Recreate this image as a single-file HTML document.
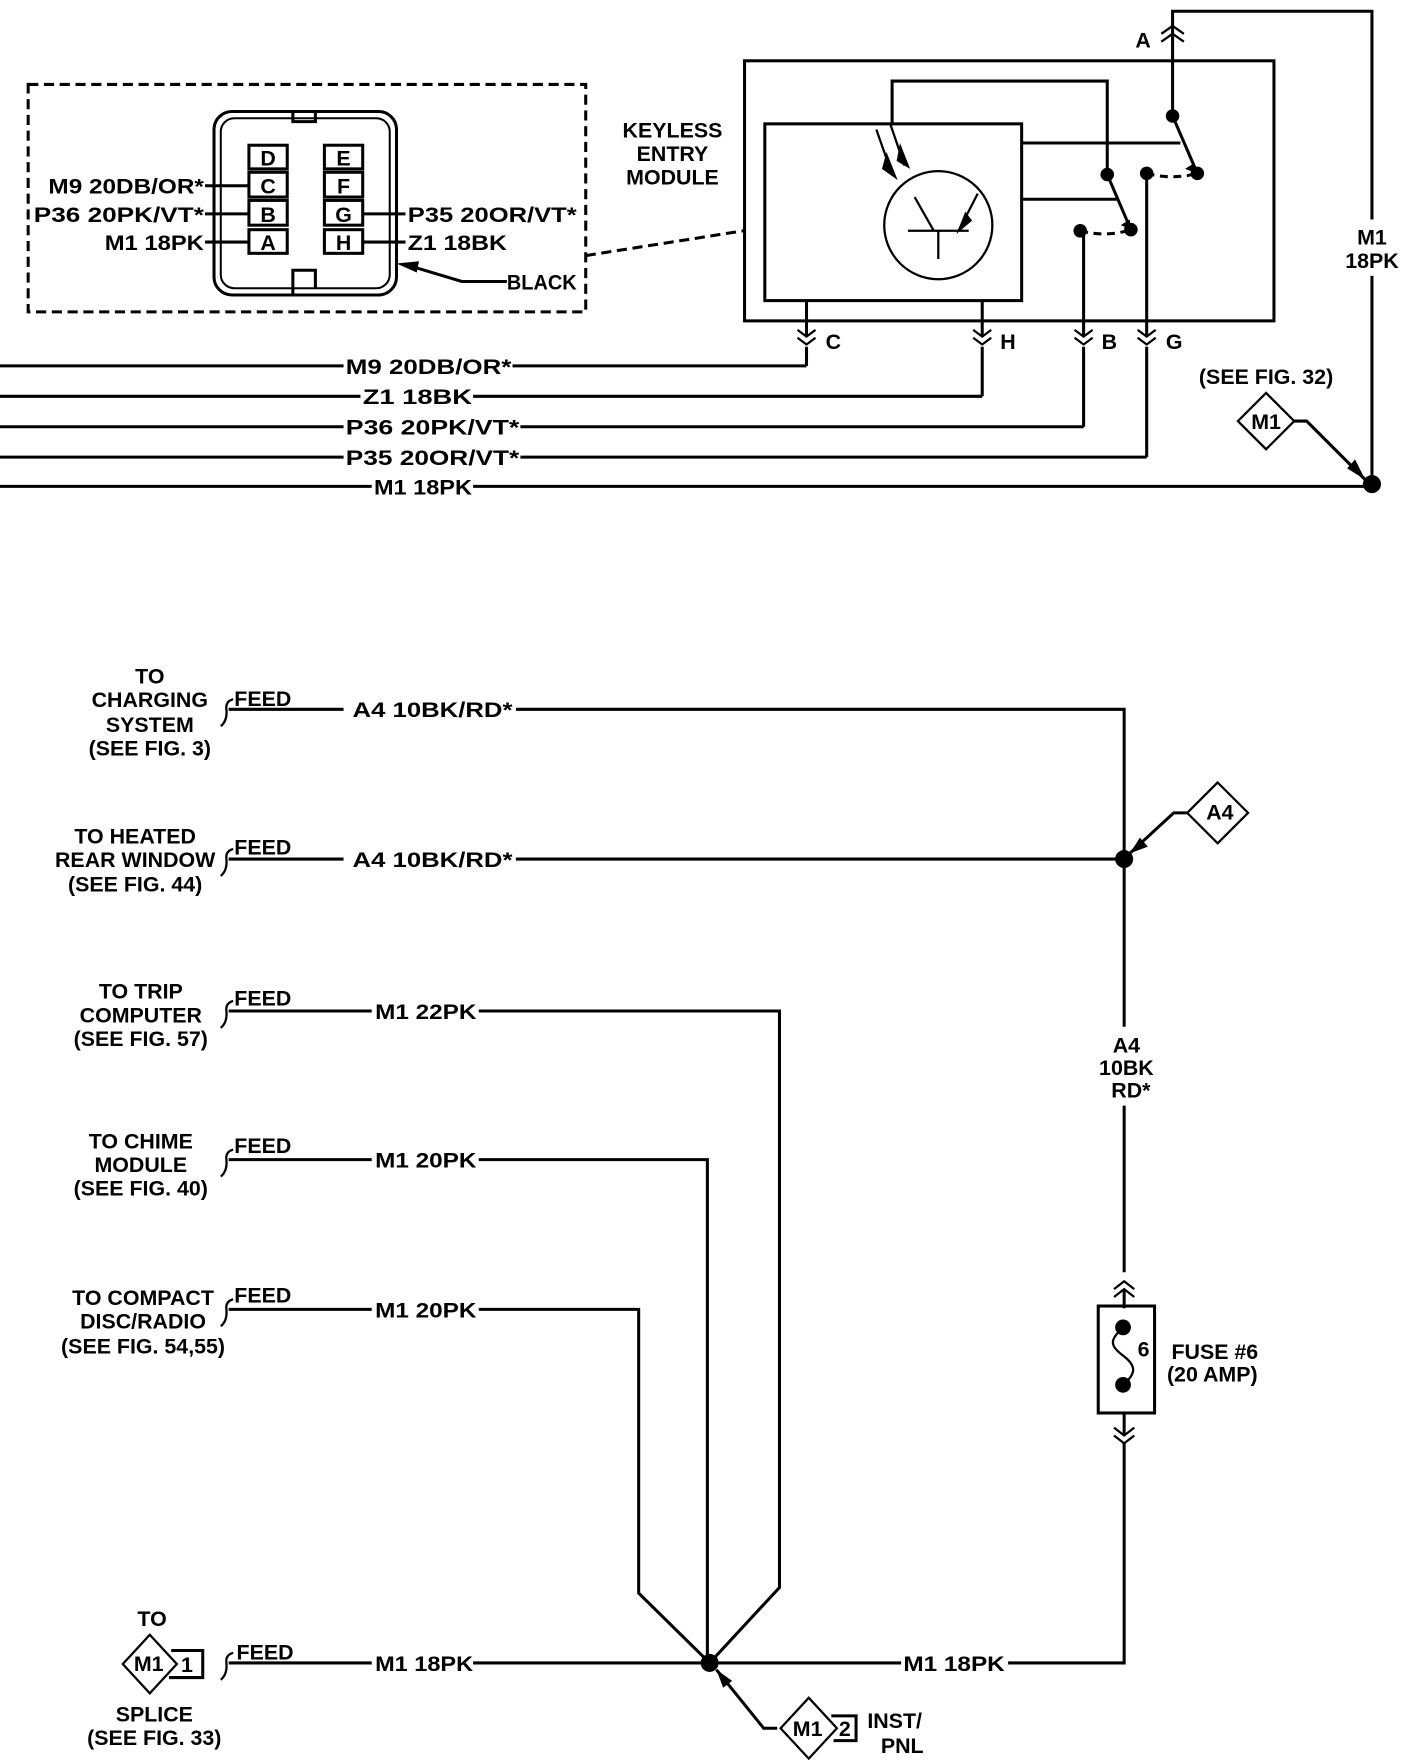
<!DOCTYPE html>
<html><head><meta charset="utf-8"><style>
html,body{margin:0;padding:0;background:#fff;}
svg{display:block;}
text{font-family:"Liberation Sans Narrow","Liberation Sans",sans-serif;font-weight:bold;font-size:19px;fill:#000;}
</style></head><body>
<svg width="1408" height="1762" viewBox="0 0 1250 1565" preserveAspectRatio="none" xmlns="http://www.w3.org/2000/svg">
<g fill="none" stroke="#000" stroke-width="2.7">
<rect x="25" y="75" width="495" height="202" stroke-dasharray="9,5"/>
<path d="M520 227 L660 205" stroke-dasharray="9,5"/>
<rect x="190" y="99" width="162" height="163" rx="16"/>
<rect x="196" y="105" width="150" height="151" rx="12" stroke-width="1.8"/>
<path d="M260 99 V108 H280 V99 M260 262 V240 H280 V256"/>
<rect x="221" y="129" width="34" height="21"/><rect x="221" y="153" width="34" height="22"/>
<rect x="221" y="178" width="34" height="22"/><rect x="221" y="204" width="34" height="21"/>
<rect x="288" y="129" width="34" height="21"/><rect x="288" y="153" width="34" height="22"/>
<rect x="288" y="178" width="34" height="22"/><rect x="288" y="204" width="34" height="21"/>
<path d="M182 165 H221 M182 190 H221 M182 215 H221 M322 190 H360 M322 215 H360"/>
<path d="M450 250 H410 L360 235"/>
<rect x="661" y="54" width="470" height="231"/>
<rect x="679" y="110" width="228" height="157"/>
<circle cx="833" cy="200" r="48" stroke-width="2"/>
<path d="M812 175 L829 205 M806 205 H860 M833 205 V230 M868 172 L851 205" stroke-width="2"/>
<path d="M792 110 V72 H983 V155 M907 127 H1048 M907 177 H993"/>
<path d="M1041 103 V10 H1218 V195 M1218 245 V430"/>
<path d="M1041 103 L1063 154 M983 155 L1004 204"/>
<path d="M1018 154 Q1040 160 1063 154 M959 205 Q982 211 1004 204" stroke-dasharray="7,5"/>
<path d="M1018 154 V298 M1018 308 V406 M962 205 V298 M962 308 V379 M716 267 V298 M716 308 V325 M872 267 V298 M872 308 V352"/>
<g stroke-width="2">
<path d="M708 293 L716 299 L724 293 M708 300 L716 306 L724 300"/>
<path d="M864 293 L872 299 L880 293 M864 300 L872 306 L880 300"/>
<path d="M954 293 L962 299 L970 293 M954 300 L962 306 L970 300"/>
<path d="M1010 293 L1018 299 L1026 293 M1010 300 L1018 306 L1026 300"/>
<path d="M1031 30 L1041 23 L1051 30 M1031 37 L1041 30 L1051 37"/>
</g>
<path d="M0 325 H305 M455 325 H716 M0 352 H320 M420 352 H872 M0 379 H305 M462 379 H962 M0 406 H305 M462 406 H1018 M0 432 H330 M420 432 H1218"/>
<path d="M1124 349 L1149 374 L1124 399 L1099 374 Z" stroke-width="2"/>
<path d="M1149 374 H1160 L1212 426"/>
<path d="M203 630 H305 M458 630 H998 V912 M998 982 V1130 M998 1145 V1162 M203 763 H305 M458 763 H998"/>
<path d="M998 1255 V1275 M998 1282 V1477 H895 M800 1477 H420 M203 1477 H330"/>
<path d="M203 898 H330 M425 898 H692 V1410 L630 1477 M203 1030 H330 M425 1030 H628 V1477 M203 1163 H330 M425 1163 H567 V1415 L630 1477"/>
<rect x="975" y="1160" width="50" height="95"/>
<path d="M997 1179 C985 1190 985 1195 997 1204 C1009 1213 1009 1220 997 1230" stroke-width="2"/>
<g stroke-width="2">
<path d="M989 1145 L998 1138 L1007 1145 M989 1152 L998 1145 L1007 1152"/>
<path d="M989 1268 L998 1275 L1007 1268 M989 1275 L998 1282 L1007 1275"/>
</g>
<path d="M1081 695 L1108 722 L1081 749 L1054 722 Z" stroke-width="2"/>
<path d="M1054 722 H1042 L1003 758"/>
<path d="M690 1535 H678 L636 1483"/>
<path d="M718 1508 L743 1535 L718 1562 L693 1535 Z" stroke-width="2"/>
<path d="M738 1524 H760 V1546 H740"/>
<path d="M133 1452 L157 1478 L133 1504 L109 1478 Z" stroke-width="2"/>
<path d="M152 1466 H180 V1490 H150"/>
<g stroke-width="2">
<path d="M207 621 Q200 623 201 630 Q202 640 196 645"/>
<path d="M207 754 Q200 756 201 763 Q202 773 196 778"/>
<path d="M207 889 Q200 891 201 898 Q202 908 196 913"/>
<path d="M207 1021 Q200 1023 201 1030 Q202 1040 196 1045"/>
<path d="M207 1154 Q200 1156 201 1163 Q202 1173 196 1178"/>
<path d="M207 1468 Q200 1470 201 1477 Q202 1487 196 1492"/>
</g>
</g>
<g fill="#000">
<circle cx="1041" cy="103" r="6"/><circle cx="1063" cy="154" r="6"/><circle cx="1018" cy="154" r="6"/>
<circle cx="983" cy="155" r="6"/><circle cx="1004" cy="204" r="6"/><circle cx="959" cy="205" r="6"/>
<circle cx="1218" cy="430" r="8"/><circle cx="998" cy="763" r="8"/><circle cx="630" cy="1477" r="8"/>
<circle cx="997" cy="1179" r="7"/><circle cx="997" cy="1230" r="7"/>
<path d="M1052 150 L1060 145 L1063 154 Z M995 200 L1003 195 L1004 204 Z"/>
<path d="M352 234 L372 232 L370 242 Z"/>
<path d="M1212 426 L1196 416 L1203 408 Z"/>
<path d="M1003 758 L1012 744 L1019 752 Z"/>
<path d="M636 1483 L650 1493 L642 1499 Z"/>
<path d="M787 135 L797 160 L783 150 Z M799 127 L808 150 L796 143 Z M849 208 L857 188 L863 196 Z"/>
</g>
<g stroke="#000" stroke-width="2"><path d="M778 115 L792 155 M790 109 L803 147"/></g>
<text x="238" y="147" text-anchor="middle">D</text><text x="238" y="172" text-anchor="middle">C</text>
<text x="238" y="197" text-anchor="middle">B</text><text x="238" y="222" text-anchor="middle">A</text>
<text x="305" y="147" text-anchor="middle">E</text><text x="305" y="172" text-anchor="middle">F</text>
<text x="305" y="197" text-anchor="middle">G</text><text x="305" y="222" text-anchor="middle">H</text>
<text x="43" y="172" textLength="138" lengthAdjust="spacingAndGlyphs">M9 20DB/OR*</text>
<text x="30" y="197" textLength="151" lengthAdjust="spacingAndGlyphs">P36 20PK/VT*</text>
<text x="93" y="222" textLength="88" lengthAdjust="spacingAndGlyphs">M1 18PK</text>
<text x="362" y="197" textLength="150" lengthAdjust="spacingAndGlyphs">P35 20OR/VT*</text>
<text x="362" y="222" textLength="88" lengthAdjust="spacingAndGlyphs">Z1 18BK</text>
<text x="450" y="257" textLength="62" lengthAdjust="spacingAndGlyphs">BLACK</text>
<text x="597" y="122" text-anchor="middle">KEYLESS</text>
<text x="597" y="143" text-anchor="middle">ENTRY</text>
<text x="597" y="164" text-anchor="middle">MODULE</text>
<text x="733" y="310">C</text><text x="888" y="310">H</text><text x="978" y="310">B</text><text x="1035" y="310">G</text>
<text x="1008" y="42" font-size="16">A</text>
<text x="1218" y="217" text-anchor="middle">M1</text><text x="1218" y="238" text-anchor="middle">18PK</text>
<text x="307" y="332" textLength="147" lengthAdjust="spacingAndGlyphs">M9 20DB/OR*</text>
<text x="322" y="359" textLength="97" lengthAdjust="spacingAndGlyphs">Z1 18BK</text>
<text x="307" y="386" textLength="154" lengthAdjust="spacingAndGlyphs">P36 20PK/VT*</text>
<text x="307" y="413" textLength="154" lengthAdjust="spacingAndGlyphs">P35 20OR/VT*</text>
<text x="332" y="439" textLength="87" lengthAdjust="spacingAndGlyphs">M1 18PK</text>
<text x="1124" y="341" text-anchor="middle">(SEE FIG. 32)</text>
<text x="1124" y="381" text-anchor="middle" font-size="16">M1</text>
<text x="133" y="607" text-anchor="middle">TO</text>
<text x="133" y="628" text-anchor="middle">CHARGING</text>
<text x="133" y="650" text-anchor="middle">SYSTEM</text>
<text x="133" y="671" text-anchor="middle">(SEE FIG. 3)</text>
<text x="208" y="627">FEED</text>
<text x="313" y="637" textLength="142" lengthAdjust="spacingAndGlyphs">A4 10BK/RD*</text>
<text x="120" y="749" text-anchor="middle">TO HEATED</text>
<text x="120" y="770" text-anchor="middle">REAR WINDOW</text>
<text x="120" y="792" text-anchor="middle">(SEE FIG. 44)</text>
<text x="208" y="759">FEED</text>
<text x="313" y="770" textLength="142" lengthAdjust="spacingAndGlyphs">A4 10BK/RD*</text>
<text x="1083" y="728" text-anchor="middle" font-size="16">A4</text>
<text x="1000" y="935" text-anchor="middle">A4</text>
<text x="1000" y="955" text-anchor="middle">10BK</text>
<text x="1004" y="975" text-anchor="middle">RD*</text>
<text x="125" y="887" text-anchor="middle">TO TRIP</text>
<text x="125" y="908" text-anchor="middle">COMPUTER</text>
<text x="125" y="929" text-anchor="middle">(SEE FIG. 57)</text>
<text x="208" y="893">FEED</text>
<text x="333" y="905" textLength="90" lengthAdjust="spacingAndGlyphs">M1 22PK</text>
<text x="125" y="1020" text-anchor="middle">TO CHIME</text>
<text x="125" y="1041" text-anchor="middle">MODULE</text>
<text x="125" y="1062" text-anchor="middle">(SEE FIG. 40)</text>
<text x="208" y="1024">FEED</text>
<text x="333" y="1037" textLength="90" lengthAdjust="spacingAndGlyphs">M1 20PK</text>
<text x="127" y="1159" text-anchor="middle">TO COMPACT</text>
<text x="127" y="1180" text-anchor="middle">DISC/RADIO</text>
<text x="127" y="1202" text-anchor="middle">(SEE FIG. 54,55)</text>
<text x="208" y="1157">FEED</text>
<text x="333" y="1170" textLength="90" lengthAdjust="spacingAndGlyphs">M1 20PK</text>
<text x="1040" y="1207">FUSE #6</text>
<text x="1036" y="1227">(20 AMP)</text>
<text x="1010" y="1205">6</text>
<text x="135" y="1444" text-anchor="middle">TO</text>
<text x="132" y="1484" text-anchor="middle" font-size="16">M1</text>
<text x="166" y="1485" text-anchor="middle" font-size="16">1</text>
<text x="210" y="1474">FEED</text>
<text x="333" y="1484" textLength="87" lengthAdjust="spacingAndGlyphs">M1 18PK</text>
<text x="802" y="1484" textLength="90" lengthAdjust="spacingAndGlyphs">M1 18PK</text>
<text x="137" y="1529" text-anchor="middle">SPLICE</text>
<text x="137" y="1550" text-anchor="middle">(SEE FIG. 33)</text>
<text x="717" y="1542" text-anchor="middle" font-size="16">M1</text>
<text x="750" y="1542" text-anchor="middle" font-size="16">2</text>
<text x="770" y="1535">INST/</text>
<text x="782" y="1557">PNL</text>
</svg>
</body></html>
